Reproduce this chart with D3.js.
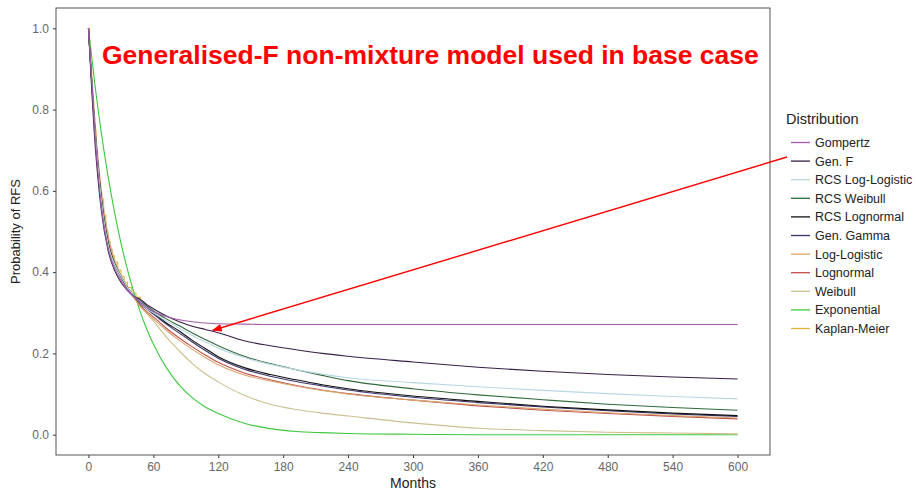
<!DOCTYPE html>
<html>
<head>
<meta charset="utf-8">
<script src="https://cdn.jsdelivr.net/npm/d3@7"></script>
<style>
  body { margin: 0; background: #fff; }
  text { font-family: "Liberation Sans", Arial, sans-serif; }
</style>
</head>
<body>
<div id="chart"></div>
<script>
// chart size matches the browser window
var svgWidth = 917;
var svgHeight = 490;

var margin = { top: 8, right: 147, bottom: 35, left: 56 };
var width = svgWidth - margin.left - margin.right;
var height = svgHeight - margin.top - margin.bottom;

// months at which the fitted curves were read
var months = [0, 6, 12, 18, 24, 30, 36, 42, 48, 54, 60, 72, 84, 96, 108, 120, 144, 168, 192, 216, 240, 300, 360, 420, 480, 540, 600];

var gompertz      = [1, 0.74, 0.56, 0.46, 0.41, 0.38, 0.355, 0.34, 0.326, 0.313, 0.303, 0.291, 0.283, 0.278, 0.275, 0.273, 0.272, 0.271, 0.271, 0.271, 0.271, 0.271, 0.271, 0.271, 0.271, 0.271, 0.271];
var genF          = [1, 0.72, 0.55, 0.455, 0.405, 0.375, 0.355, 0.34, 0.333, 0.32, 0.31, 0.292, 0.278, 0.267, 0.259, 0.251, 0.231, 0.219, 0.209, 0.2, 0.193, 0.179, 0.166, 0.156, 0.148, 0.142, 0.137];
var rcsLogLogistic= [1, 0.75, 0.575, 0.47, 0.42, 0.39, 0.362, 0.342, 0.325, 0.31, 0.3, 0.28, 0.262, 0.244, 0.228, 0.213, 0.19, 0.173, 0.16, 0.149, 0.14, 0.128, 0.118, 0.109, 0.101, 0.094, 0.088];
var rcsWeibull    = [1, 0.75, 0.575, 0.47, 0.42, 0.39, 0.362, 0.342, 0.33, 0.317, 0.305, 0.285, 0.268, 0.25, 0.234, 0.219, 0.193, 0.175, 0.16, 0.146, 0.133, 0.113, 0.098, 0.086, 0.075, 0.067, 0.06];
var rcsLognormal  = [1, 0.75, 0.58, 0.475, 0.422, 0.39, 0.362, 0.342, 0.325, 0.312, 0.3, 0.275, 0.255, 0.232, 0.212, 0.192, 0.165, 0.148, 0.135, 0.123, 0.113, 0.095, 0.082, 0.07, 0.061, 0.053, 0.047];
var genGamma      = [1, 0.75, 0.578, 0.473, 0.42, 0.388, 0.36, 0.34, 0.322, 0.309, 0.297, 0.272, 0.25, 0.228, 0.207, 0.188, 0.161, 0.144, 0.131, 0.12, 0.11, 0.092, 0.079, 0.068, 0.059, 0.051, 0.045];
var logLogistic   = [1, 0.76, 0.59, 0.485, 0.428, 0.39, 0.36, 0.338, 0.315, 0.3, 0.285, 0.257, 0.232, 0.21, 0.19, 0.172, 0.147, 0.132, 0.12, 0.109, 0.1, 0.085, 0.073, 0.063, 0.054, 0.047, 0.041];
var lognormal     = [1, 0.755, 0.585, 0.48, 0.425, 0.39, 0.36, 0.339, 0.318, 0.303, 0.29, 0.262, 0.238, 0.216, 0.196, 0.178, 0.152, 0.135, 0.121, 0.11, 0.101, 0.085, 0.071, 0.06, 0.052, 0.045, 0.039];
var weibull       = [1, 0.77, 0.6, 0.495, 0.432, 0.39, 0.36, 0.337, 0.316, 0.297, 0.28, 0.24, 0.206, 0.175, 0.15, 0.13, 0.097, 0.075, 0.062, 0.053, 0.046, 0.029, 0.016, 0.01, 0.006, 0.004, 0.002];
var exponential   = [1, 0.861, 0.741, 0.638, 0.549, 0.472, 0.407, 0.35, 0.301, 0.259, 0.223, 0.165, 0.122, 0.091, 0.068, 0.052, 0.028, 0.015, 0.008, 0.005, 0.003, 0.001, 0, 0, 0, 0, 0];

// Kaplan-Meier steps (observed period only)
var kmMonths = [0, 1, 2, 3, 4, 5, 6, 7, 8, 9, 10, 11, 12, 14, 16, 18, 20, 22, 24, 27, 30, 33, 36, 40, 44, 48];
var kmSurv   = [1, 0.95, 0.9, 0.86, 0.82, 0.78, 0.75, 0.71, 0.68, 0.65, 0.63, 0.6, 0.58, 0.54, 0.5, 0.475, 0.455, 0.44, 0.425, 0.405, 0.39, 0.375, 0.362, 0.348, 0.338, 0.33];

var seriesNames = ["Gompertz", "Gen. F", "RCS Log-Logistic", "RCS Weibull", "RCS Lognormal", "Gen. Gamma", "Log-Logistic", "Lognormal", "Weibull", "Exponential", "Kaplan-Meier"];
var seriesColors = ["#a05ca8", "#3a1e45", "#bad6e4", "#2e6b3a", "#111111", "#3b3470", "#d9a46a", "#c0504d", "#cdbf8e", "#3cc83c", "#e2b53a"];
var seriesValues = [gompertz, genF, rcsLogLogistic, rcsWeibull, rcsLognormal, genGamma, logLogistic, lognormal, weibull, exponential, null];

var xTicks = [0, 60, 120, 180, 240, 300, 360, 420, 480, 540, 600];
var yTicks = [0, 0.2, 0.4, 0.6, 0.8, 1.0];

var titleText = "Generalised-F non-mixture model used in base case";

var svg = d3.select("#chart")
    .append("svg")
    .attr("width", svgWidth)
    .attr("height", svgHeight);

var g = svg.append("g")
    .attr("transform", "translate(" + margin.left + "," + margin.top + ")");

var x = d3.scaleLinear().domain([-30, 630]).range([0, width]);
var y = d3.scaleLinear().domain([-0.05, 1.05]).range([height, 0]);

// axes
var xAxis = g.append("g")
    .attr("transform", "translate(0," + height + ")")
    .call(d3.axisBottom(x).tickValues(xTicks).tickSize(3).tickPadding(4));
var yAxis = g.append("g")
    .call(d3.axisLeft(y).tickValues(yTicks).tickFormat(d3.format(".1f")).tickSize(3).tickPadding(4));

[xAxis, yAxis].forEach(function(a) {
    a.select(".domain").remove();
    a.selectAll("line").attr("stroke", "#333");
    a.selectAll("text").attr("fill", "#666").style("font-size", "12px");
});

var line = d3.line()
    .x(function(d) { return x(d[0]); })
    .y(function(d) { return y(d[1]); })
    .curve(d3.curveMonotoneX);

var lines = g.append("g");

// KM drawn underneath
lines.append("path")
    .datum(kmMonths.map(function(m, i) { return [m, kmSurv[i]]; }))
    .attr("fill", "none")
    .attr("stroke", seriesColors[10])
    .attr("stroke-width", 1.1)
    .attr("d", d3.line().x(function(d) { return x(d[0]); }).y(function(d) { return y(d[1]); }).curve(d3.curveStepAfter));

// fitted curves, last series first so Gompertz / Gen. F sit on top
for (var i = 9; i >= 0; i--) {
    lines.append("path")
        .datum(months.map(function(m, j) { return [m, seriesValues[i][j]]; }))
        .attr("fill", "none")
        .attr("stroke", seriesColors[i])
        .attr("stroke-width", 1.1)
        .attr("d", line);
}

// panel border
g.append("rect")
    .attr("width", width)
    .attr("height", height)
    .attr("fill", "none")
    .attr("stroke", "#555")
    .attr("stroke-width", 1);

// axis titles
svg.append("text")
    .attr("x", margin.left + width / 2)
    .attr("y", 488)
    .attr("text-anchor", "middle")
    .style("font-size", "14px")
    .attr("fill", "#222")
    .text("Months");

svg.append("text")
    .attr("transform", "translate(20," + (margin.top + height / 2) + ") rotate(-90)")
    .attr("text-anchor", "middle")
    .style("font-size", "13px")
    .attr("fill", "#222")
    .text("Probability of RFS");

// legend
var legend = svg.append("g").attr("transform", "translate(786,0)");
legend.append("text")
    .attr("x", 0)
    .attr("y", 124)
    .style("font-size", "14.5px")
    .attr("fill", "#222")
    .text("Distribution");

seriesNames.forEach(function(name, i) {
    var ly = 142.5 + i * 18.6;
    legend.append("line")
        .attr("x1", 5).attr("x2", 24)
        .attr("y1", ly).attr("y2", ly)
        .attr("stroke", seriesColors[i])
        .attr("stroke-width", 1.3);
    legend.append("text")
        .attr("x", 29)
        .attr("y", ly + 4.5)
        .style("font-size", "12.5px")
        .attr("fill", "#222")
        .text(name);
});

// red annotation
svg.append("text")
    .attr("x", 102)
    .attr("y", 64)
    .style("font-size", "26.5px")
    .style("font-weight", "bold")
    .attr("fill", "#ff0000")
    .text(titleText);

svg.append("defs").append("marker")
    .attr("id", "arrowhead")
    .attr("viewBox", "0 0 10 10")
    .attr("refX", 9).attr("refY", 5)
    .attr("markerWidth", 7).attr("markerHeight", 7)
    .attr("orient", "auto")
    .append("path")
    .attr("d", "M0,1 L10,5 L0,9 Z")
    .attr("fill", "#ff0000");

// tip sits on the Gen. F curve at ~115 months
svg.append("line")
    .attr("x1", 787).attr("y1", 157)
    .attr("x2", margin.left + x(115)).attr("y2", margin.top + y(0.257))
    .attr("stroke", "#ff0000")
    .attr("stroke-width", 1.4)
    .attr("marker-end", "url(#arrowhead)");
</script>
</body>
</html>
